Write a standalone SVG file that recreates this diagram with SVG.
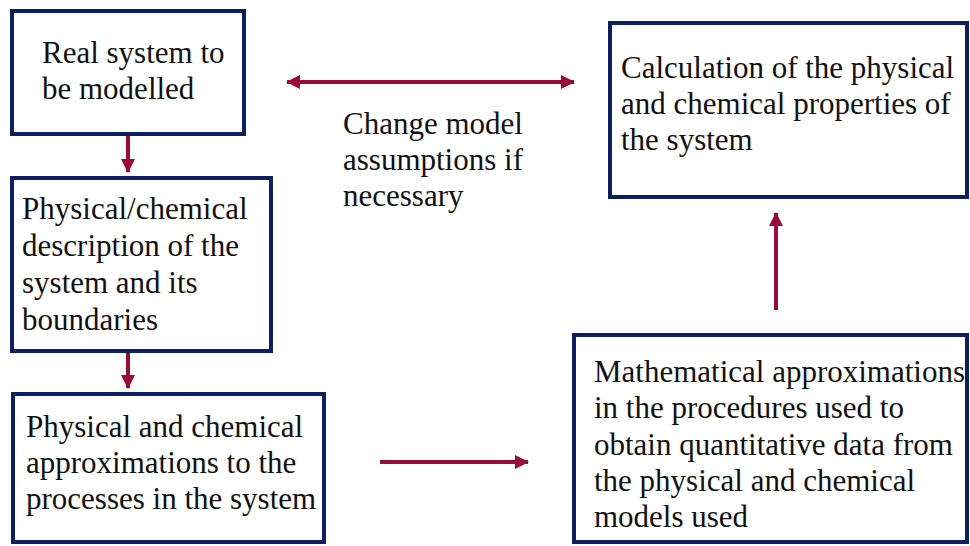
<svg xmlns="http://www.w3.org/2000/svg" width="970" height="546" viewBox="0 0 970 546">
  <style>
    .box { fill: #ffffff; stroke: #0c1f5e; stroke-width: 4; }
    .txt { font-family: "Liberation Serif", "Times New Roman", serif; font-size: 31px; fill: #111111; }
    .link { stroke: #9a0a3a; stroke-width: 4; fill: none; }
  </style>
  <defs>
    <marker id="head" viewBox="0 0 14 14" refX="13" refY="7" markerWidth="14" markerHeight="14" markerUnits="userSpaceOnUse" orient="auto-start-reverse">
      <path d="M0,0 L14,7 L0,14 Z" fill="#9a0a3a"/>
    </marker>
  </defs>
  <rect width="970" height="546" fill="#ffffff"/>

  <g id="connectors">
    <line class="link" x1="128" y1="136" x2="128" y2="172" marker-end="url(#head)"/>
    <line class="link" x1="128" y1="353" x2="128" y2="388" marker-end="url(#head)"/>
    <line class="link" x1="287" y1="82" x2="574" y2="82" marker-start="url(#head)" marker-end="url(#head)"/>
    <line class="link" x1="380" y1="462" x2="528" y2="462" marker-end="url(#head)"/>
    <line class="link" x1="776" y1="310" x2="776" y2="213" marker-end="url(#head)"/>
  </g>

  <g id="real-system">
    <rect class="box" x="12" y="11" width="232" height="123"/>
    <text class="txt" x="42" y="63">Real system to</text>
    <text class="txt" x="42" y="99">be modelled</text>
  </g>

  <g id="description">
    <rect class="box" x="12" y="178" width="259" height="173"/>
    <text class="txt" x="22" y="219">Physical/chemical</text>
    <text class="txt" x="22" y="256">description of the</text>
    <text class="txt" x="22" y="293">system and its</text>
    <text class="txt" x="22" y="330">boundaries</text>
  </g>

  <g id="approximations">
    <rect class="box" x="13" y="394" width="311" height="148"/>
    <text class="txt" x="26" y="437">Physical and chemical</text>
    <text class="txt" x="26" y="473">approximations to the</text>
    <text class="txt" x="26" y="509">processes in the system</text>
  </g>

  <g id="calculation">
    <rect class="box" x="610" y="23" width="357" height="174"/>
    <text class="txt" x="621" y="78">Calculation of the physical</text>
    <text class="txt" x="621" y="114">and chemical properties of</text>
    <text class="txt" x="621" y="150">the system</text>
  </g>

  <g id="math-approximations">
    <rect class="box" x="574" y="335" width="393" height="207"/>
    <text class="txt" x="594" y="382">Mathematical approximations</text>
    <text class="txt" x="594" y="418">in the procedures used to</text>
    <text class="txt" x="594" y="455">obtain quantitative data from</text>
    <text class="txt" x="594" y="491">the physical and chemical</text>
    <text class="txt" x="594" y="527">models used</text>
  </g>

  <g id="feedback-label">
    <text class="txt" x="343" y="134">Change model</text>
    <text class="txt" x="343" y="170">assumptions if</text>
    <text class="txt" x="343" y="206">necessary</text>
  </g>
</svg>
